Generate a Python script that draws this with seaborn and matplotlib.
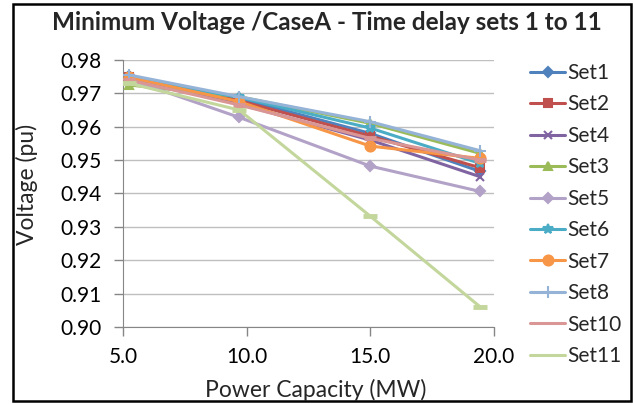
import pandas as pd
import matplotlib.pyplot as plt
import seaborn as sns

power = [5.25, 9.7, 15.0, 19.45]
series_names = ['Set1', 'Set2', 'Set4', 'Set3', 'Set5', 'Set6', 'Set7', 'Set8', 'Set10', 'Set11']
set1 = [0.9752, 0.9685, 0.9580, 0.9466]
set2 = [0.9748, 0.9678, 0.9572, 0.9477]
set4 = [0.9745, 0.9668, 0.9560, 0.9450]
set3 = [0.9725, 0.9690, 0.9610, 0.9520]
set5 = [0.9742, 0.9628, 0.9482, 0.9406]
set6 = [0.9748, 0.9688, 0.9596, 0.9490]
set7 = [0.9748, 0.9675, 0.9542, 0.9505]
set8 = [0.9755, 0.9690, 0.9615, 0.9528]
set10 = [0.9740, 0.9665, 0.9565, 0.9500]
set11 = [0.9730, 0.9650, 0.9332, 0.9060]

values = [set1, set2, set4, set3, set5, set6, set7, set8, set10, set11]
rows = []
for name, vals in zip(series_names, values):
    for p, v in zip(power, vals):
        rows.append({'Power': p, 'Voltage': v, 'Set': name})
df = pd.DataFrame(rows)

colors = {'Set1': '#4F81BD', 'Set2': '#C0504D', 'Set4': '#8064A2', 'Set3': '#9BBB59',
          'Set5': '#B3A2C7', 'Set6': '#4BACC6', 'Set7': '#F79646', 'Set8': '#95B3D7',
          'Set10': '#D99694', 'Set11': '#C3D69B'}
markers = {'Set1': 'D', 'Set2': 's', 'Set4': 'x', 'Set3': '^', 'Set5': 'D', 'Set6': '*',
           'Set7': 'o', 'Set8': '+', 'Set10': None, 'Set11': None}
sizes = {'Set1': 6, 'Set2': 7, 'Set4': 8, 'Set3': 8, 'Set5': 7, 'Set6': 9,
         'Set7': 9, 'Set8': 10, 'Set10': 9, 'Set11': 10}

sns.set_style('white')
plt.rcParams['font.family'] = ['Lato', 'DejaVu Sans']

fig = plt.figure(figsize=(6.34, 4.04), dpi=100)
ax = fig.add_axes([0.194, 0.1906, 0.585, 0.661])

for name in series_names:
    sub = df[df['Set'] == name]
    if markers[name] is None:
        sns.lineplot(data=sub, x='Power', y='Voltage', color=colors[name],
                     linewidth=2.2, label=name, ax=ax, zorder=3)
        # short horizontal dash markers
        sns.scatterplot(data=sub, x='Power', y='Voltage', color=colors[name], marker='_',
                        s=sizes[name] ** 2, linewidth=3.5, ax=ax, zorder=3, legend=False)
    else:
        sns.lineplot(data=sub, x='Power', y='Voltage', color=colors[name],
                     marker=markers[name], markersize=sizes[name],
                     markeredgecolor=colors[name], markeredgewidth=1.5,
                     linewidth=2.2, label=name, ax=ax, zorder=3)

ax.set_xlim(5, 20)
ax.set_ylim(0.90, 0.98)
ax.set_xticks([5, 10, 15, 20])
ax.set_xticklabels(['5.0', '10.0', '15.0', '20.0'])
ax.set_yticks([0.90, 0.91, 0.92, 0.93, 0.94, 0.95, 0.96, 0.97, 0.98])
ax.set_yticklabels(['%.2f' % t for t in ax.get_yticks()])
ax.grid(axis='y', color='#BFBFBF', linewidth=1)
ax.set_axisbelow(True)
for s in ['top', 'right']:
    ax.spines[s].set_visible(False)
ax.spines['left'].set_color('#868686')
ax.spines['bottom'].set_color('#868686')
ax.tick_params(axis='both', labelsize=15, colors='#868686', labelcolor='black',
               direction='out', length=6.5, width=1, left=True, bottom=True)
ax.tick_params(axis='y', pad=9)
ax.tick_params(axis='x', pad=8)
ax.set_xlabel('')
ax.set_ylabel('')

fig.text(316 / 634, 1 - 390 / 404, 'Power Capacity (MW)', fontsize=16.5,
         ha='center', va='center')
fig.text(27 / 634, 1 - 184 / 404, 'Voltage (pu)', fontsize=16.5, rotation=90,
         ha='center', va='center')
fig.text(327 / 634, 1 - 22 / 404, 'Minimum Voltage /CaseA - Time delay sets 1 to 11',
         fontsize=17.5, fontweight='bold', ha='center', va='center')

handles, labels = ax.get_legend_handles_labels()
for h in handles:
    lab = h.get_label()
    if lab in sizes and markers[lab] is not None:
        h.set_markersize(sizes[lab] * 0.8)
ax.legend(handles, labels, loc='upper left', bbox_to_anchor=(530 / 634, 1 - 63 / 404),
          bbox_transform=fig.transFigure, frameon=False, fontsize=15,
          labelspacing=0.55, handlelength=1.7, handletextpad=0.1,
          borderpad=0, borderaxespad=0)

fig.patches.append(plt.Rectangle((13 / 634, 3 / 404), 618 / 634, 397 / 404,
                                 transform=fig.transFigure, fill=False,
                                 edgecolor='black', linewidth=1.8))

fig.savefig('out.png', dpi=100)
